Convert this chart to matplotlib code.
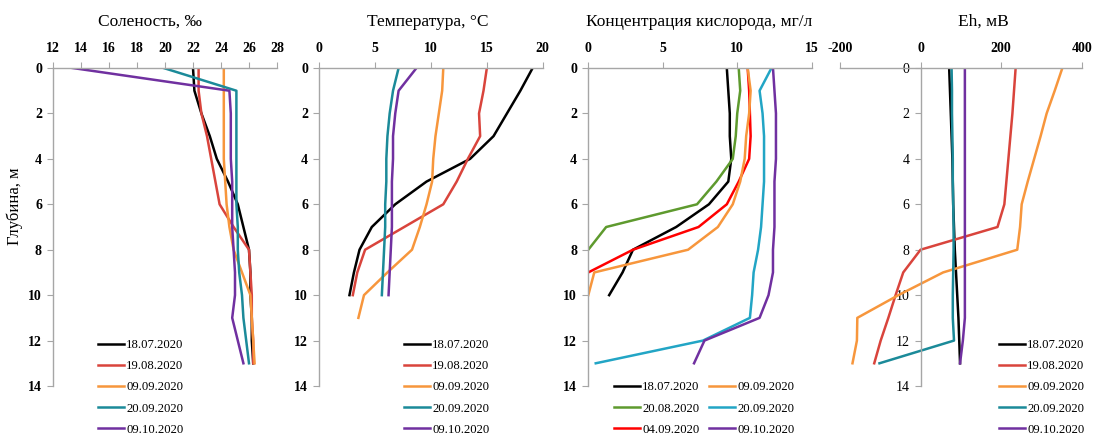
import matplotlib
matplotlib.use("Agg")
import matplotlib.pyplot as plt

plt.rcParams['font.family'] = ['Liberation Serif', 'DejaVu Serif']
plt.rcParams['axes.unicode_minus'] = False

# ---------------- data ----------------
dates5 = ["18.07.2020", "19.08.2020", "09.09.2020", "20.09.2020", "09.10.2020"]
colors5 = ["#000000", "#d9443c", "#f7963c", "#1b8a99", "#7030a0"]

# Salinity, permille (depth 0..13 m)
sal_depth = list(range(14))
sal_1807 = [22.0, 22.1, 22.6, 23.2, 23.7, 24.5, 25.2, 25.6, 26.0, 26.1, 26.1, 26.2, 26.2, 26.3]
sal_1908 = [22.4, 22.4, 22.6, 23.0, 23.3, 23.6, 23.9, 24.9, 26.0, 26.1, 26.2, 26.2, 26.3, 26.3]
sal_0909 = [24.2, 24.2, 24.2, 24.2, 24.2, 24.3, 24.4, 24.6, 24.9, 25.5, 26.1, 26.2, 26.3, 26.4]
sal_2009 = [19.9, 25.1, 25.1, 25.1, 25.1, 25.1, 25.1, 25.2, 25.2, 25.3, 25.5, 25.6, 25.8, 26.0]
sal_0910 = [13.4, 24.6, 24.7, 24.7, 24.7, 24.8, 24.8, 24.8, 24.9, 25.0, 25.0, 24.8, 25.2, 25.6]

# Temperature, C
tmp_1807 = [19.1, 18.0, 16.8, 15.6, 13.5, 9.6, 6.8, 4.7, 3.6, 3.1, 2.7]
tmp_1908 = [15.0, 14.7, 14.3, 14.4, 13.3, 12.3, 11.1, 7.6, 4.1, 3.4, 3.0]
tmp_0909 = [11.1, 11.0, 10.7, 10.4, 10.2, 10.1, 9.6, 9.0, 8.3, 6.1, 4.0, 3.5]
tmp_2009 = [7.1, 6.6, 6.3, 6.1, 6.0, 6.0, 5.9, 5.9, 5.8, 5.7, 5.6]
tmp_0910 = [8.7, 7.1, 6.8, 6.6, 6.6, 6.5, 6.5, 6.5, 6.4, 6.3, 6.2]

# Oxygen, mg/l
ox_dates = ["18.07.2020", "20.08.2020", "04.09.2020", "09.09.2020", "20.09.2020", "09.10.2020"]
ox_colors = ["#000000", "#5e9a2e", "#ff0000", "#f7963c", "#22a5c5", "#7030a0"]
ox_1807 = [9.3, 9.4, 9.5, 9.5, 9.6, 9.4, 8.1, 5.9, 3.0, 2.3, 1.4]
ox_2008 = [10.1, 10.2, 10.0, 9.9, 9.7, 8.6, 7.3, 1.2, 0.0]
ox_0409 = [10.7, 10.8, 10.85, 10.9, 10.8, 10.1, 9.3, 7.4, 3.0, 0.0]
ox_0909 = [10.7, 10.9, 10.8, 10.6, 10.5, 10.2, 9.7, 8.7, 6.7, 0.4, 0.0]
ox_2009 = [12.3, 11.5, 11.7, 11.8, 11.8, 11.8, 11.7, 11.6, 11.4, 11.1, 11.0, 10.85, 7.7, 0.5]
ox_0910 = [12.4, 12.5, 12.6, 12.6, 12.6, 12.5, 12.5, 12.5, 12.4, 12.4, 12.1, 11.5, 7.8, 7.1]

# Eh, mV
eh_1807 = [71, 73, 75, 77, 79, 80, 81, 83, 85, 88, 91, 94, 96, 98]
eh_1908 = [236, 232, 228, 223, 218, 213, 208, 191, 0, -43, -62, -80, -99, -115]
eh_0909 = [352, 333, 313, 298, 282, 266, 251, 247, 240, 56, -55, -157, -158, -169]
eh_2009 = [77, 78, 78, 79, 80, 80, 81, 82, 82, 81, 80, 80, 83, -102]
eh_0910 = [110, 110, 110, 110, 110, 110, 110, 110, 110, 110, 110, 110, 105, 98]

titles = ["Соленость, ‰", "Температура, °C", "Концентрация кислорода, мг/л", "Eh, мВ"]
ylabel = "Глубина, м"
depth_ticks = list(range(0, 15, 2))

# ---------------- figure ----------------
W, H = 1093, 434
fig = plt.figure(figsize=(W / 100, H / 100), dpi=100)

def px_axes(x0, x1, y0=68, y1=386):
    return fig.add_axes([x0 / W, 1 - y1 / H, (x1 - x0) / W, (y1 - y0) / H])

spine_col = "#a6a6a6"
LW = 1.8
TICK_FS = 10

def style(ax, xlim, xticks):
    ax.set_xlim(*xlim)
    ax.set_ylim(14, 0)
    ax.xaxis.tick_top()
    ax.set_xticks(list(xticks), labels=[str(t) for t in xticks],
                  fontweight='bold', fontsize=TICK_FS)
    ax.set_yticks(depth_ticks, labels=[str(t) for t in depth_ticks],
                  fontweight='bold', fontsize=TICK_FS)
    ax.spines['bottom'].set_visible(False)
    ax.spines['right'].set_visible(False)
    for s in ('top', 'left'):
        ax.spines[s].set_color(spine_col)
        ax.spines[s].set_linewidth(1.0)
    ax.tick_params(axis='x', direction='out', length=4, color=spine_col, pad=5.5)
    ax.tick_params(axis='y', direction='out', length=4, color=spine_col, pad=4)
    ax.set_facecolor('none')

def legend(ax, handles, labels, x, y, ncol=1):
    return ax.legend(handles, labels, loc='upper left',
                     bbox_to_anchor=(x / W, 1 - y / H), bbox_transform=fig.transFigure,
                     frameon=False, borderpad=0, borderaxespad=0, handlelength=2.0,
                     handletextpad=0.2, labelspacing=0.72, ncol=ncol, columnspacing=0.75,
                     prop={'size': 9.2})

# Panel 1: salinity
ax1 = px_axes(53, 277)
sal_series = [sal_1807, sal_1908, sal_0909, sal_2009, sal_0910]
h1 = []
for vals, c in zip(sal_series, colors5):
    l, = ax1.plot(vals, sal_depth[:len(vals)], color=c, lw=LW)
    h1.append(l)
style(ax1, (12, 28), range(12, 29, 2))
legend(ax1, h1, dates5, 98, 339)

# Panel 2: temperature
ax2 = px_axes(319.3, 542.7)
tmp_series = [tmp_1807, tmp_1908, tmp_0909, tmp_2009, tmp_0910]
h2 = []
for vals, c in zip(tmp_series, colors5):
    l, = ax2.plot(vals, list(range(len(vals))), color=c, lw=LW)
    h2.append(l)
style(ax2, (0, 20), range(0, 21, 5))
legend(ax2, h2, dates5, 404, 339)

# Panel 3: oxygen
ax3 = px_axes(588.3, 811.7)
ox_series = [ox_1807, ox_2008, ox_0409, ox_0909, ox_2009, ox_0910]
h3 = []
for vals, c in zip(ox_series, ox_colors):
    l, = ax3.plot(vals, list(range(len(vals))), color=c, lw=LW)
    h3.append(l)
style(ax3, (0, 15), range(0, 16, 5))
legend(ax3, h3, ox_dates, 614, 381.5, ncol=2)

# Panel 4: Eh
ax4 = px_axes(840, 1081.7)
eh_series = [eh_1807, eh_1908, eh_0909, eh_2009, eh_0910]
h4 = []
for vals, c in zip(eh_series, colors5):
    l, = ax4.plot(vals, list(range(len(vals))), color=c, lw=LW)
    h4.append(l)
style(ax4, (-200, 400), range(-200, 401, 200))
ax4.spines['left'].set_position(('data', 0))
legend(ax4, h4, dates5, 999, 339)

# Titles and y label
TITLE_FS = 12.5
fig.text(150 / W, 1 - 22 / H, titles[0], ha='center', va='center', fontsize=TITLE_FS)
fig.text(428 / W, 1 - 22 / H, titles[1], ha='center', va='center', fontsize=TITLE_FS)
fig.text(699 / W, 1 - 22 / H, titles[2], ha='center', va='center', fontsize=TITLE_FS)
fig.text(983 / W, 1 - 22 / H, titles[3], ha='center', va='center', fontsize=TITLE_FS)
fig.text(15 / W, 1 - 206 / H, ylabel, ha='center', va='center', rotation=90, fontsize=12)

fig.savefig("out.png", dpi=100)
